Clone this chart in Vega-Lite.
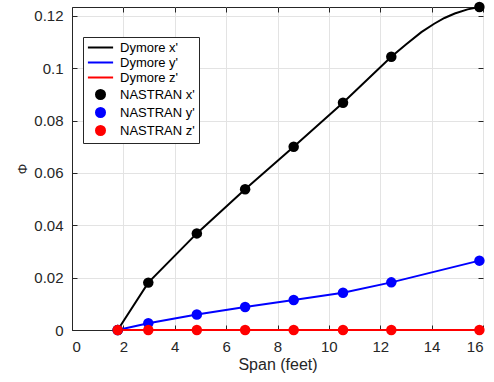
{
  "$schema": "https://vega.github.io/schema/vega-lite/v6.json",
  "width": 411,
  "height": 323,
  "autosize": "none",
  "padding": {"left": 72, "top": 7, "right": 11, "bottom": 52},
  "background": "white",
  "config": {
    "font": "Liberation Sans",
    "view": {"stroke": "#262626", "strokeWidth": 1},
    "axis": {
      "domainColor": "#262626",
      "tickColor": "#262626",
      "labelColor": "#262626",
      "titleColor": "#262626",
      "gridColor": "#e3e3e3",
      "gridWidth": 1,
      "labelFontSize": 15,
      "titleFontSize": 16,
      "titleFontWeight": "normal",
      "tickSize": -5
    }
  },
  "datasets": {
    "dymore": [
      {"span": 1.78, "phi": 0, "series": "Dymore x'"},
      {"span": 2.97, "phi": 0.0181, "series": "Dymore x'"},
      {"span": 4.86, "phi": 0.0369, "series": "Dymore x'"},
      {"span": 6.74, "phi": 0.0538, "series": "Dymore x'"},
      {"span": 8.63, "phi": 0.07, "series": "Dymore x'"},
      {"span": 10.55, "phi": 0.0868, "series": "Dymore x'"},
      {"span": 12.43, "phi": 0.1044, "series": "Dymore x'"},
      {"span": 13.0, "phi": 0.1091, "series": "Dymore x'"},
      {"span": 13.6, "phi": 0.1138, "series": "Dymore x'"},
      {"span": 14.1, "phi": 0.1170, "series": "Dymore x'"},
      {"span": 14.5, "phi": 0.1192, "series": "Dymore x'"},
      {"span": 14.9, "phi": 0.1209, "series": "Dymore x'"},
      {"span": 15.4, "phi": 0.1225, "series": "Dymore x'"},
      {"span": 15.86, "phi": 0.1234, "series": "Dymore x'"},
      {"span": 1.78, "phi": 0, "series": "Dymore y'"},
      {"span": 2.97, "phi": 0.00255, "series": "Dymore y'"},
      {"span": 4.86, "phi": 0.0059, "series": "Dymore y'"},
      {"span": 6.74, "phi": 0.0088, "series": "Dymore y'"},
      {"span": 8.63, "phi": 0.01145, "series": "Dymore y'"},
      {"span": 10.55, "phi": 0.01425, "series": "Dymore y'"},
      {"span": 12.43, "phi": 0.0182, "series": "Dymore y'"},
      {"span": 15.86, "phi": 0.0265, "series": "Dymore y'"},
      {"span": 1.78, "phi": 0, "series": "Dymore z'"},
      {"span": 15.86, "phi": 0, "series": "Dymore z'"}
    ],
    "nastran": [
      {"span": 1.78, "phi": 0, "series": "NASTRAN x'"},
      {"span": 2.97, "phi": 0.0181, "series": "NASTRAN x'"},
      {"span": 4.86, "phi": 0.0369, "series": "NASTRAN x'"},
      {"span": 6.74, "phi": 0.0538, "series": "NASTRAN x'"},
      {"span": 8.63, "phi": 0.07, "series": "NASTRAN x'"},
      {"span": 10.55, "phi": 0.0868, "series": "NASTRAN x'"},
      {"span": 12.43, "phi": 0.1044, "series": "NASTRAN x'"},
      {"span": 15.86, "phi": 0.1234, "series": "NASTRAN x'"},
      {"span": 1.78, "phi": 0, "series": "NASTRAN y'"},
      {"span": 2.97, "phi": 0.00255, "series": "NASTRAN y'"},
      {"span": 4.86, "phi": 0.0059, "series": "NASTRAN y'"},
      {"span": 6.74, "phi": 0.0088, "series": "NASTRAN y'"},
      {"span": 8.63, "phi": 0.01145, "series": "NASTRAN y'"},
      {"span": 10.55, "phi": 0.01425, "series": "NASTRAN y'"},
      {"span": 12.43, "phi": 0.0182, "series": "NASTRAN y'"},
      {"span": 15.86, "phi": 0.0265, "series": "NASTRAN y'"},
      {"span": 1.78, "phi": 0, "series": "NASTRAN z'"},
      {"span": 2.97, "phi": 0, "series": "NASTRAN z'"},
      {"span": 4.86, "phi": 0, "series": "NASTRAN z'"},
      {"span": 6.74, "phi": 0, "series": "NASTRAN z'"},
      {"span": 8.63, "phi": 0, "series": "NASTRAN z'"},
      {"span": 10.55, "phi": 0, "series": "NASTRAN z'"},
      {"span": 12.43, "phi": 0, "series": "NASTRAN z'"},
      {"span": 15.86, "phi": 0, "series": "NASTRAN z'"}
    ]
  },
  "layer": [
    {
      "data": {"name": "dymore"},
      "mark": {"type": "line", "strokeWidth": 2},
      "encoding": {
        "x": {"field": "span", "type": "quantitative", "scale": {"domain": [0, 16], "nice": false},
              "axis": {"title": "Span (feet)", "values": [0, 2, 4, 6, 8, 10, 12, 14, 16], "labelPadding": 14, "titlePadding": 2}},
        "y": {"field": "phi", "type": "quantitative", "scale": {"domain": [0, 0.1234], "nice": false},
              "axis": {"title": "Φ", "titleFontSize": 13, "values": [0, 0.02, 0.04, 0.06, 0.08, 0.1, 0.12], "format": "~g", "labelPadding": 14, "titlePadding": 4}},
        "color": {"field": "series", "type": "nominal",
                  "scale": {"domain": ["Dymore x'", "Dymore y'", "Dymore z'", "NASTRAN x'", "NASTRAN y'", "NASTRAN z'"],
                            "range": ["#000000", "#0000ff", "#ff0000", "#000000", "#0000ff", "#ff0000"]}}
      }
    },
    {
      "data": {"name": "nastran"},
      "mark": {"type": "point", "filled": true, "size": 110, "opacity": 1},
      "encoding": {
        "x": {"field": "span", "type": "quantitative",
              "axis": {"orient": "top", "labels": false, "title": null, "grid": false, "domain": false, "values": [0, 2, 4, 6, 8, 10, 12, 14, 16]}},
        "y": {"field": "phi", "type": "quantitative",
              "axis": {"orient": "right", "labels": false, "title": null, "grid": false, "domain": false, "values": [0, 0.02, 0.04, 0.06, 0.08, 0.1, 0.12]}},
        "color": {"field": "series", "type": "nominal",
                  "legend": {"orient": "none", "legendX": 11, "legendY": 30, "title": null,
                             "strokeColor": "#262626", "fillColor": "white", "padding": 4,
                             "labelFontSize": 13, "labelColor": "#000000", "symbolSize": 81, "symbolOffset": 7,
                             "symbolStrokeWidth": 2, "labelOffset": 13, "rowPadding": 1,
                             "encode": {"symbols": {"update": {"stroke": {"scale": "color", "field": "value"}, "strokeWidth": {"value": 2}}}}}},
        "shape": {"field": "series", "type": "nominal",
                  "scale": {"domain": ["Dymore x'", "Dymore y'", "Dymore z'", "NASTRAN x'", "NASTRAN y'", "NASTRAN z'"],
                            "range": ["M-2.8,0H2.8", "M-2.8,0H2.8", "M-2.8,0H2.8", "circle", "circle", "circle"]}}
      }
    }
  ],
  "resolve": {"axis": {"x": "independent", "y": "independent"}}
}
